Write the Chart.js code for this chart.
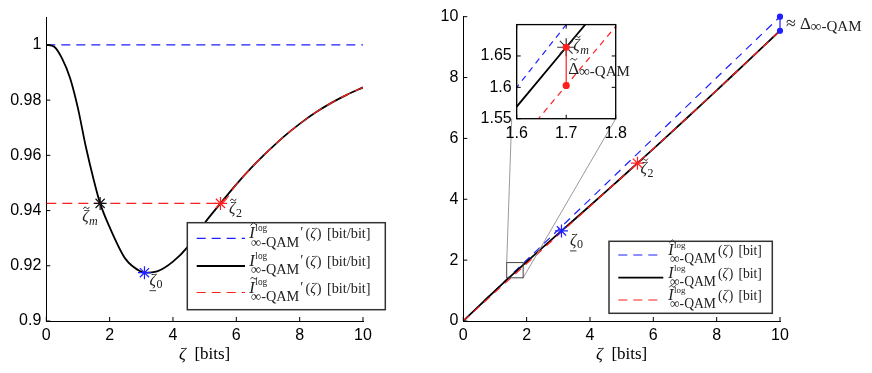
<!DOCTYPE html>
<html>
<head>
<meta charset="utf-8">
<script src="https://cdn.jsdelivr.net/npm/chart.js@4.4.1/dist/chart.umd.min.js"></script>
<style>
body { margin: 0; background: #fff; }
#wrap { position: relative; width: 872px; height: 373px; overflow: hidden; }
canvas { position: absolute; }
</style>
</head>
<body>
<div id="wrap">
  <canvas id="left" width="440" height="373" style="left:0;top:0;width:440px;height:373px"></canvas>
  <canvas id="right" width="432" height="373" style="left:440px;top:0;width:432px;height:373px"></canvas>
  <canvas id="inset" width="190" height="140" style="left:466px;top:10px;width:190px;height:140px"></canvas>
</div>
<script>
const SANS = '"Liberation Sans", Arial, sans-serif';
const SERIF = '"Liberation Serif", "DejaVu Serif", serif';
const BLUE = '#1f1fff', RED = '#ff1f1f', INK = '#222';

// zeta grid and the curves
const zeta = [0, 0.25, 0.5, 0.75, 1, 1.25, 1.5, 1.7, 2, 2.5, 3, 3.1, 3.5, 4, 4.5, 5, 5.5, 6, 6.5, 7, 7.5, 8, 8.5, 9, 9.5, 10];
const dI = [1, 0.9993, 0.995, 0.988, 0.977, 0.963, 0.951, 0.9426, 0.934, 0.9225, 0.9178, 0.9175, 0.918, 0.9215, 0.9273, 0.9355, 0.9426, 0.9495, 0.9558, 0.9615, 0.9668, 0.9714, 0.9755, 0.979, 0.982, 0.9846];
const I = [0, 0.2499, 0.4992, 0.7471, 0.9927, 1.2352, 1.4745, 1.6639, 1.9454, 2.4095, 2.8696, 2.9614, 3.3285, 3.7884, 4.2506, 4.7163, 5.1858, 5.6588, 6.1351, 6.6144, 7.0965, 7.5811, 8.0678, 8.5564, 9.0467, 9.5384];
// upper bound (hat)
const hatZeta = [0, 10];
const hatDI = [1, 1];
const hatI = [0, 10];
// tilde version: straight below zeta2, then on the curve
const tildeZeta = [0, 5.5, 6, 6.5, 7, 7.5, 8, 8.5, 9, 9.5, 10];
const tildeDI = [0.9426, 0.9426, 0.9495, 0.9558, 0.9615, 0.9668, 0.9714, 0.9755, 0.979, 0.982, 0.9846];
const tildeI = [0, 5.1858, 5.6588, 6.1351, 6.6144, 7.0965, 7.5811, 8.0678, 8.5564, 9.0467, 9.5384];
// marked points: zeta~m, zeta0, zeta~2
const markZeta = [1.7, 3.1, 5.5];
const markDI = [0.9426, 0.9175, 0.9426];
const markI = [1.6639, 2.9614, 5.1858];
const markColors = ['#111', BLUE, RED];
// gap at zeta = 10 and the gap shown in the inset
const deltaZeta = [10, 10], deltaI = [10, 9.5384];
const gapZeta = [1.7, 1.7], gapI = [1.6639, 1.6029];
// zoom rectangle on the right panel
const zoomBoxX = [1.37, 1.89], zoomBoxY = [1.42, 1.92];
// ticks
const leftXTicks = [0, 2, 4, 6, 8, 10], leftYTicks = [0.9, 0.92, 0.94, 0.96, 0.98, 1];
const rightXTicks = [0, 2, 4, 6, 8, 10], rightYTicks = [0, 2, 4, 6, 8, 10];
const insetXTicks = [1.6, 1.7, 1.8], insetYTicks = [1.55, 1.6, 1.65];
const legendKinds = ['hat', null, 'tilde'];
const legendStyles = [{ color: BLUE, dash: [9, 6], width: 1.2 }, { color: '#000', dash: [], width: 1.8 }, { color: RED, dash: [9, 6], width: 1.2 }];

const pts = (xs, ys) => xs.map((x, i) => ({ x, y: ys[i] }));

function line(data, color, width, dash, extra) {
  return Object.assign({ data, showLine: true, borderColor: color, borderWidth: width, borderDash: dash, pointRadius: 0, fill: false }, extra);
}
function stars(data, colors, r) {
  return { data, showLine: false, pointStyle: 'star', pointRadius: r, pointBorderColor: colors, pointBorderWidth: 1.2, clip: false };
}

function axis(min, max, ticks, fit) {
  return {
    type: 'linear', min, max,
    grid: { display: false, drawTicks: false },
    border: { display: true, color: '#000', width: 1 },
    afterBuildTicks: s => { s.ticks = ticks.map(v => ({ value: v })); },
    afterFit: fit,
    ticks: { color: '#000', font: { family: SANS, size: 16 }, padding: 5, autoSkip: false, maxRotation: 0, callback: v => String(v) }
  };
}

function put(ctx, s, x, y, size, italic) {
  ctx.font = (italic ? 'italic ' : '') + size + 'px ' + SERIF;
  ctx.fillText(s, x, y);
  return x + ctx.measureText(s).width;
}
function accent(ctx, kind, cx, y, w) {
  ctx.beginPath();
  if (kind === 'hat') {
    ctx.moveTo(cx - w / 2, y + 1.5); ctx.lineTo(cx, y - 1.5); ctx.lineTo(cx + w / 2, y + 1.5);
  } else {
    ctx.moveTo(cx - w / 2, y + 1);
    ctx.quadraticCurveTo(cx - w / 4, y - 2.5, cx, y);
    ctx.quadraticCurveTo(cx + w / 4, y + 2.5, cx + w / 2, y - 1);
  }
  ctx.stroke();
}
function zetaLabel(ctx, x, y, kind, sub) {
  const x1 = put(ctx, 'ζ', x, y, 16, true);
  if (kind === 'under') {
    ctx.beginPath(); ctx.moveTo(x, y + 6); ctx.lineTo(x1, y + 6); ctx.stroke();
  } else if (kind) accent(ctx, kind, (x + x1) / 2 + 1, y - 13.5, 6);
  put(ctx, sub, x1 + 0.5, y + 3.5, 12, sub === 'm');
}
function deltaLabel(ctx, x, y, prefix, withTilde) {
  let x1 = x;
  if (prefix) x1 = put(ctx, prefix, x, y, 18, false) + 4;
  const x2 = put(ctx, 'Δ', x1, y, 17, false);
  if (withTilde) accent(ctx, 'tilde', (x1 + x2) / 2, y - 15, 7);
  put(ctx, '∞-QAM', x2, y + 2, 15, false);
}
function legendRow(ctx, x, y, kind, prime, unit, s) {
  const xI = put(ctx, 'I', x, y, 15 * s, true);
  if (kind) accent(ctx, kind, (x + xI) / 2 + 1.5 * s, y - 13 * s, 6 * s);
  put(ctx, 'log', xI + 0.5, y - 6.5 * s, 8.5 * s, false);
  let xe = put(ctx, '∞-QAM', x + 1.5 * s, y + 7.5 * s, 13 * s, false);
  if (prime) xe = put(ctx, '′', xe + 1, y - 1, 13 * s, false);
  xe = put(ctx, '(', xe + 2 * s, y, 13 * s, false);
  xe = put(ctx, 'ζ', xe, y, 13 * s, true);
  xe = put(ctx, ')', xe + 0.5, y, 13 * s, false);
  put(ctx, unit, xe + 5 * s, y, 13 * s, false);
}
function legend(ctx, bx, by, bw, bh, rowsY, sampleX0, sampleX1, textX, prime, unit, s) {
  ctx.save();
  ctx.fillStyle = '#fff';
  ctx.fillRect(bx, by, bw, bh);
  ctx.strokeStyle = '#333'; ctx.lineWidth = 1.5;
  ctx.strokeRect(bx, by, bw, bh);
  rowsY.forEach((ry, i) => {
    const st = legendStyles[i];
    ctx.strokeStyle = st.color; ctx.lineWidth = st.width; ctx.setLineDash(st.dash);
    ctx.beginPath(); ctx.moveTo(bx + sampleX0, by + ry); ctx.lineTo(bx + sampleX1, by + ry); ctx.stroke();
    ctx.setLineDash([]);
    ctx.fillStyle = INK; ctx.strokeStyle = INK; ctx.lineWidth = 0.9;
    legendRow(ctx, bx + textX, by + ry, legendKinds[i], prime, unit, s);
  });
  ctx.restore();
}
function xTitle(ctx, a, y) {
  ctx.font = 'italic 17px ' + SERIF;
  const w1 = ctx.measureText('ζ').width;
  ctx.font = '17px ' + SERIF;
  const w2 = ctx.measureText('  [bits]').width;
  const x0 = (a.left + a.right) / 2 - (w1 + w2) / 2;
  ctx.fillStyle = '#000';
  const x1 = put(ctx, 'ζ', x0, y, 17, true);
  put(ctx, '  [bits]', x1, y, 17, false);
}
const inTicks = {
  id: 'inTicks',
  afterDraw(chart) {
    const { ctx, chartArea: a, scales: { x, y } } = chart;
    const box = chart.canvas.id === 'inset';
    ctx.save();
    ctx.strokeStyle = '#000'; ctx.lineWidth = 1;
    x.ticks.forEach(t => {
      const p = x.getPixelForValue(t.value);
      ctx.beginPath(); ctx.moveTo(p, a.bottom); ctx.lineTo(p, a.bottom - 4);
      if (box) { ctx.moveTo(p, a.top); ctx.lineTo(p, a.top + 4); }
      ctx.stroke();
    });
    y.ticks.forEach(t => {
      const p = y.getPixelForValue(t.value);
      ctx.beginPath(); ctx.moveTo(a.left, p); ctx.lineTo(a.left + 4, p);
      if (box) { ctx.moveTo(a.right, p); ctx.lineTo(a.right - 4, p); }
      ctx.stroke();
    });
    ctx.restore();
  }
};
const baseOpts = { responsive: false, animation: false, events: [], plugins: { legend: { display: false }, tooltip: { enabled: false } } };

// ---------- left panel: derivatives ----------
const leftDeco = {
  id: 'leftDeco',
  afterDraw(chart) {
    const { ctx, chartArea: a, scales: { x, y } } = chart;
    ctx.save();
    ctx.fillStyle = INK; ctx.strokeStyle = INK; ctx.lineWidth = 0.9;
    const px = i => x.getPixelForValue(markZeta[i]), py = i => y.getPixelForValue(markDI[i]);
    zetaLabel(ctx, px(0) - 18, py(0) + 18, 'tilde', 'm');
    zetaLabel(ctx, px(1) + 5, py(1) + 12, 'under', '0');
    zetaLabel(ctx, px(2) + 8.5, py(2) + 10, 'tilde', '2');
    xTitle(ctx, a, 359);
    ctx.restore();
    legend(ctx, a.left + 141, a.top + 205.4, 198, 87, [15.6, 43.3, 69.8], 9.4, 57.7, 62, true, '[bit/bit]', 1.1);
  }
};
new Chart(document.getElementById('left'), {
  type: 'scatter',
  data: {
    datasets: [
      stars(pts(markZeta, markDI), markColors, 6.5),
      line(pts(tildeZeta, tildeDI), RED, 1.2, [10, 6], { cubicInterpolationMode: 'monotone' }),
      line(pts(zeta, dI), '#000', 1.8, [], { cubicInterpolationMode: 'monotone' }),
      line(pts(hatZeta, hatDI), BLUE, 1.2, [9, 6])
    ]
  },
  options: Object.assign({}, baseOpts, {
    layout: { padding: { left: 0, top: 17.3, right: 77, bottom: 0 } },
    scales: {
      x: axis(0, 10, leftXTicks, s => { s.height = 52; }),
      y: axis(0.9, 1.01, leftYTicks, s => { s.width = 46.3; })
    }
  }),
  plugins: [inTicks, leftDeco]
});

// ---------- inset (zoom of the right panel) ----------
const insetDeco = {
  id: 'insetDeco',
  beforeDatasetsDraw(chart) {
    const { ctx, chartArea: a } = chart;
    ctx.save(); ctx.fillStyle = '#fff'; ctx.fillRect(a.left, a.top, a.width, a.height); ctx.restore();
  },
  afterDraw(chart) {
    const { ctx, chartArea: a, scales: { x, y } } = chart;
    ctx.save();
    ctx.strokeStyle = '#000'; ctx.lineWidth = 1.3;
    ctx.strokeRect(a.left, a.top, a.width, a.height);
    ctx.fillStyle = INK; ctx.strokeStyle = INK; ctx.lineWidth = 0.9;
    const sx = x.getPixelForValue(gapZeta[0]), sy = y.getPixelForValue(gapI[0]);
    zetaLabel(ctx, sx + 7, sy + 3, 'tilde', 'm');
    deltaLabel(ctx, sx + 2, sy + 27, '', true);
    ctx.restore();
  }
};
const insetChart = new Chart(document.getElementById('inset'), {
  type: 'scatter',
  data: {
    datasets: [
      line(pts(gapZeta, gapI), RED, 1.2, [], { pointRadius: 3, pointBackgroundColor: RED, pointBorderColor: RED, clip: false }),
      stars([{ x: markZeta[0], y: markI[0] }], ['#333'], 9),
      line(pts(tildeZeta, tildeI), RED, 1.2, [6, 5]),
      line(pts(zeta, I), '#000', 1.8, []),
      line(pts(hatZeta, hatI), BLUE, 1.2, [6, 5])
    ]
  },
  options: Object.assign({}, baseOpts, {
    layout: { padding: { left: 0, top: 11, right: 40.3, bottom: 0 } },
    scales: {
      x: axis(1.6, 1.8, insetXTicks, s => { s.height = 31.3; }),
      y: axis(1.55, 1.7, insetYTicks, s => { s.width = 50.7; })
    }
  }),
  plugins: [insetDeco, inTicks]
});

// ---------- right panel: the functions ----------
const rightDeco = {
  id: 'rightDeco',
  afterDatasetsDraw(chart) {
    const { ctx, scales: { x, y } } = chart;
    const insetEl = insetChart.canvas, rightEl = chart.canvas;
    const ox = insetEl.offsetLeft - rightEl.offsetLeft, oy = insetEl.offsetTop - rightEl.offsetTop;
    const ia = insetChart.chartArea;
    const bx0 = x.getPixelForValue(zoomBoxX[0]), bx1 = x.getPixelForValue(zoomBoxX[1]);
    const by0 = y.getPixelForValue(zoomBoxY[1]), by1 = y.getPixelForValue(zoomBoxY[0]);
    ctx.save();
    ctx.strokeStyle = '#999'; ctx.lineWidth = 1;
    ctx.beginPath();
    ctx.moveTo(bx0, by0); ctx.lineTo(ox + ia.left - 5, oy + ia.bottom);
    ctx.moveTo(bx1, by1); ctx.lineTo(ox + ia.right, oy + ia.bottom);
    ctx.stroke();
    ctx.strokeStyle = '#444';
    ctx.strokeRect(bx0, by0, bx1 - bx0, by1 - by0);
    ctx.restore();
  },
  afterDraw(chart) {
    const { ctx, chartArea: a, scales: { x, y } } = chart;
    ctx.save();
    ctx.fillStyle = INK; ctx.strokeStyle = INK; ctx.lineWidth = 0.9;
    const px = i => x.getPixelForValue(markZeta[i]), py = i => y.getPixelForValue(markI[i]);
    zetaLabel(ctx, px(1) + 8.5, py(1) + 14, 'under', '0');
    zetaLabel(ctx, px(2) + 3, py(2) + 10, 'tilde', '2');
    deltaLabel(ctx, x.getPixelForValue(deltaZeta[0]) + 6, y.getPixelForValue(deltaI[0]) + 12, '≈', false);
    xTitle(ctx, a, 359);
    ctx.restore();
    legend(ctx, a.left + 145.7, a.top + 224.6, 163.3, 72, [13.7, 36.4, 58.7], 9.3, 54.3, 59.3, false, '[bit]', 1.05);
  }
};
new Chart(document.getElementById('right'), {
  type: 'scatter',
  data: {
    datasets: [
      line(pts(deltaZeta, deltaI), BLUE, 1.2, [], { pointRadius: 2.5, pointBackgroundColor: BLUE, pointBorderColor: BLUE, clip: false }),
      stars(pts(markZeta.slice(1), markI.slice(1)), markColors.slice(1), 6.5),
      line(pts(tildeZeta, tildeI), RED, 1.2, [8, 6]),
      line(pts(zeta, I), '#000', 1.8, []),
      line(pts(hatZeta, hatI), BLUE, 1.2, [8, 6])
    ]
  },
  options: Object.assign({}, baseOpts, {
    layout: { padding: { left: 0, top: 16.7, right: 92, bottom: 0 } },
    scales: {
      x: axis(0, 10, rightXTicks, s => { s.height = 52; }),
      y: axis(0, 10, rightYTicks, s => { s.width = 23.3; })
    }
  }),
  plugins: [inTicks, rightDeco]
});
</script>
</body>
</html>
